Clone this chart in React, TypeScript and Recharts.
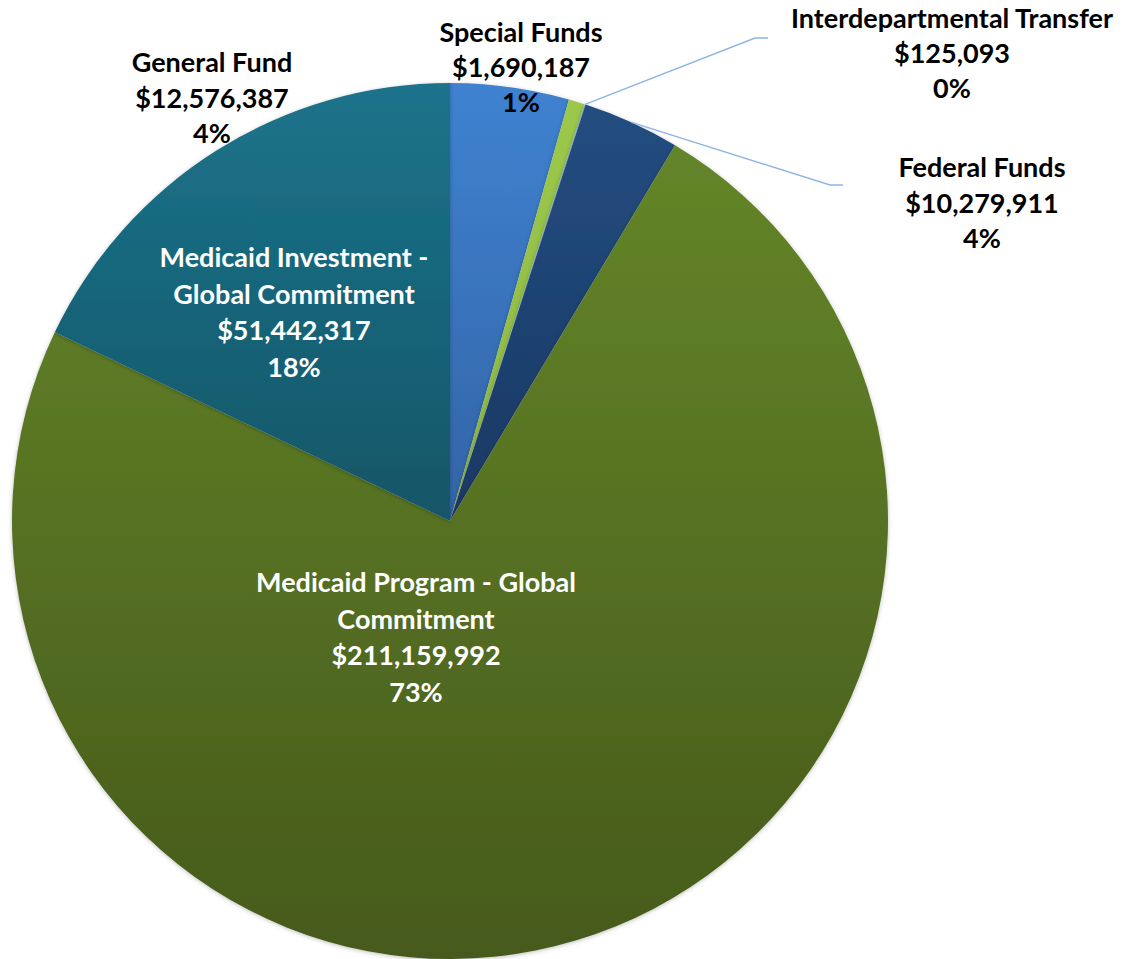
import { PieChart, Pie, Cell } from "recharts"

// fund sources, clockwise from 12 o'clock
const fundNames = [
  "General Fund",
  "Special Funds",
  "Interdepartmental Transfer",
  "Federal Funds",
  "Medicaid Program - Global Commitment",
  "Medicaid Investment - Global Commitment",
]
const fundAmounts = [12576387, 1690187, 125093, 10279911, 211159992, 51442317]
const shareLabels = ["4%", "1%", "0%", "4%", "73%", "18%"]
// how the name wraps in the label
const nameLines = [
  ["General Fund"],
  ["Special Funds"],
  ["Interdepartmental Transfer"],
  ["Federal Funds"],
  ["Medicaid Program - Global", "Commitment"],
  ["Medicaid Investment -", "Global Commitment"],
]

const data = fundNames.map((name, i) => ({ name, value: fundAmounts[i] }))

// slice gradients: [top, bottom]
const sliceColors = [
  ["#3F82D0", "#3364A6"],
  ["#9CC84B", "#8DB842"],
  ["#8DB4E2", "#8DB4E2"],
  ["#224D80", "#1B3863"],
  ["#648529", "#465A1B"],
  ["#1C738B", "#135667"],
]

// label placement relative to pie centre
const labelLayout = [
  { dx: -238, dy: -449, gap: 35.5, color: "#000" },
  { dx: 71, dy: -479, gap: 35, color: "#000" },
  { dx: 502, dy: -493, gap: 35, color: "#000", elbow: [305, -483], end: [318, -483] },
  { dx: 532, dy: -344, gap: 35.5, color: "#000", elbow: [380, -336], end: [393, -336] },
  { dx: -34, dy: 71, gap: 36.5, color: "#fff" },
  { dx: -156, dy: -254, gap: 36.7, color: "#fff" },
]

const RAD = Math.PI / 180
const FONT = "Lato, 'Open Sans', sans-serif"

const renderLabel = (props: any) => {
  const { cx, cy, midAngle, outerRadius, index } = props
  const lay = labelLayout[index]
  const lines = [...nameLines[index], "$" + fundAmounts[index].toLocaleString("en-US"), shareLabels[index]]
  let leader = null
  if (lay.elbow) {
    const sx = cx + outerRadius * Math.cos(-midAngle * RAD)
    const sy = cy + outerRadius * Math.sin(-midAngle * RAD)
    leader = (
      <polyline
        points={`${sx},${sy} ${cx + lay.elbow[0]},${cy + lay.elbow[1]} ${cx + lay.end[0]},${cy + lay.end[1]}`}
        fill="none"
        stroke="#8EB4E3"
        strokeWidth={1.5}
      />
    )
  }
  return (
    <g key={`lbl-${index}`}>
      {leader}
      <text
        x={cx + lay.dx}
        y={cy + lay.dy}
        textAnchor="middle"
        fill={lay.color}
        fontFamily={FONT}
        fontWeight={700}
        fontSize={27}
      >
        {lines.map((ln, j) => (
          <tspan key={j} x={cx + lay.dx} dy={j === 0 ? 0 : lay.gap}>
            {ln}
          </tspan>
        ))}
      </text>
    </g>
  )
}

export default function App() {
  return (
    <div style={{ position: "absolute", left: 0, top: 0, width: 1122, height: 959, background: "#fff" }}>
      <PieChart width={1122} height={959} margin={{ top: 0, right: 0, bottom: 0, left: 0 }}>
        <defs>
          {sliceColors.map((c, i) => (
            <linearGradient key={i} id={`slice${i}`} x1="0" y1="0" x2="0" y2="1">
              <stop offset="0%" stopColor={c[0]} />
              <stop offset="100%" stopColor={c[1]} />
            </linearGradient>
          ))}
          <filter id="pieShadow" x="-5%" y="-5%" width="110%" height="110%">
            <feDropShadow dx="0" dy="1" stdDeviation="2" floodColor="#000" floodOpacity="0.25" />
          </filter>
        </defs>
        <Pie
          data={data}
          dataKey="value"
          nameKey="name"
          cx={450}
          cy={521}
          outerRadius={438}
          startAngle={90}
          endAngle={-270}
          stroke="none"
          label={renderLabel}
          labelLine={false}
          isAnimationActive={false}
          style={{ filter: "url(#pieShadow)" }}
        >
          {data.map((d, i) => (
            <Cell key={d.name} fill={`url(#slice${i})`} stroke="none" />
          ))}
        </Pie>
      </PieChart>
    </div>
  )
}
